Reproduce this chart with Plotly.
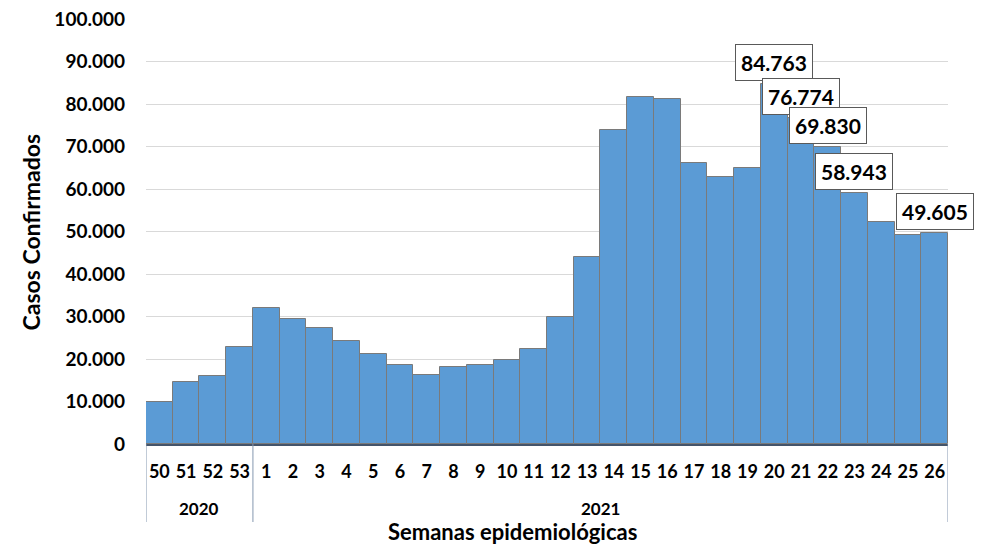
import plotly.graph_objects as go

# semanas epidemiológicas
years = ["2020"] * 4 + ["2021"] * 26
weeks = ["50", "51", "52", "53"] + [str(w) for w in range(1, 27)]

# casos confirmados por semana
casos = [
    9880, 14660, 16000, 22800,
    32100, 29400, 27400, 24200, 21200, 18500, 16200, 18100, 18700, 19700,
    22300, 30000, 44100, 73800, 81600, 81200, 66100, 62800, 65000, 84763,
    76774, 69830, 58943, 52300, 49200, 49605,
]

# semanas con etiqueta (2021)
label_weeks = ["20", "21", "22", "23", "26"]

FONT = "Lato"
# la página añade 8px de margen al body, se descuenta del tamaño
W, H = 976, 539
M = dict(l=138, r=36, t=11, b=103)
PLOT_W = W - M["l"] - M["r"]
PLOT_H = H - M["t"] - M["b"]


def fmt(v):
    return f"{v:,}".replace(",", ".")


fig = go.Figure()
fig.add_trace(go.Bar(
    x=list(range(len(weeks))),
    y=casos,
    width=1,
    marker=dict(color="#5B9BD5", line=dict(color="#7a7a7a", width=1)),
    hovertext=[f"{y} sem {w}" for y, w in zip(years, weeks)],
    hoverinfo="text+y",
))

# cajas con valores
for i, (yr, wk) in enumerate(zip(years, weeks)):
    if yr == "2021" and wk in label_weeks:
        fig.add_annotation(
            x=i, y=casos[i], xref="x", yref="y",
            text=fmt(casos[i]),
            showarrow=False, yanchor="bottom", yshift=3,
            bgcolor="white", bordercolor="#595959", borderwidth=1, borderpad=5,
            font=dict(family=FONT, size=21, color="black", weight="bold"),
        )

# grupos por año: separadores y etiquetas
groups = []
for i, yr in enumerate(years):
    if not groups or groups[-1][0] != yr:
        groups.append([yr, i, i])
    else:
        groups[-1][2] = i

div_bottom = -78 / PLOT_H
for k, (yr, start, end) in enumerate(groups):
    fig.add_shape(type="line", xref="x", yref="paper",
                  x0=start - 0.5, x1=start - 0.5, y0=0, y1=div_bottom,
                  line=dict(color="#8497B0", width=1))
    if k == len(groups) - 1:
        fig.add_shape(type="line", xref="x", yref="paper",
                      x0=end + 0.5, x1=end + 0.5, y0=0, y1=div_bottom,
                      line=dict(color="#8497B0", width=1))
    fig.add_annotation(
        x=(start + end) / 2, y=-64 / PLOT_H, xref="x", yref="paper",
        text=yr, showarrow=False, xanchor="center", yanchor="middle",
        font=dict(family=FONT, size=17, color="black", weight="bold"),
    )

# títulos de ejes
fig.add_annotation(
    x=0.4576, y=-87 / PLOT_H, xref="paper", yref="paper",
    text="Semanas epidemiológicas", showarrow=False,
    xanchor="center", yanchor="middle",
    font=dict(family=FONT, size=22, color="black", weight="bold"),
)
fig.add_annotation(
    x=-116 / PLOT_W, y=0.5, xref="paper", yref="paper",
    text="Casos Confirmados", showarrow=False, textangle=-90,
    xanchor="center", yanchor="middle",
    font=dict(family=FONT, size=23, color="black", weight="bold"),
)

fig.update_layout(
    width=W, height=H,
    margin=M,
    plot_bgcolor="white", paper_bgcolor="white",
    separators=",.",
    bargap=0,
    showlegend=False,
    font=dict(family=FONT, color="black"),
)
fig.update_yaxes(
    range=[0, 100000], dtick=10000, tickformat=",d",
    showgrid=True, gridcolor="#d9d9d9", gridwidth=1,
    zeroline=False, showline=False, automargin=False,
    ticklabelstandoff=20, ticklabeloverflow="allow",
    tickfont=dict(family=FONT, size=19, weight="bold"),
)
fig.update_xaxes(
    range=[-0.5, len(weeks) - 0.5],
    tickmode="array", tickvals=list(range(len(weeks))), ticktext=weeks,
    showline=True, linecolor="#44546A", linewidth=2,
    showgrid=False, zeroline=False, automargin=False,
    ticklabelstandoff=10,
    tickfont=dict(family=FONT, size=18, weight="bold"),
)

fig.write_html("out.html")
